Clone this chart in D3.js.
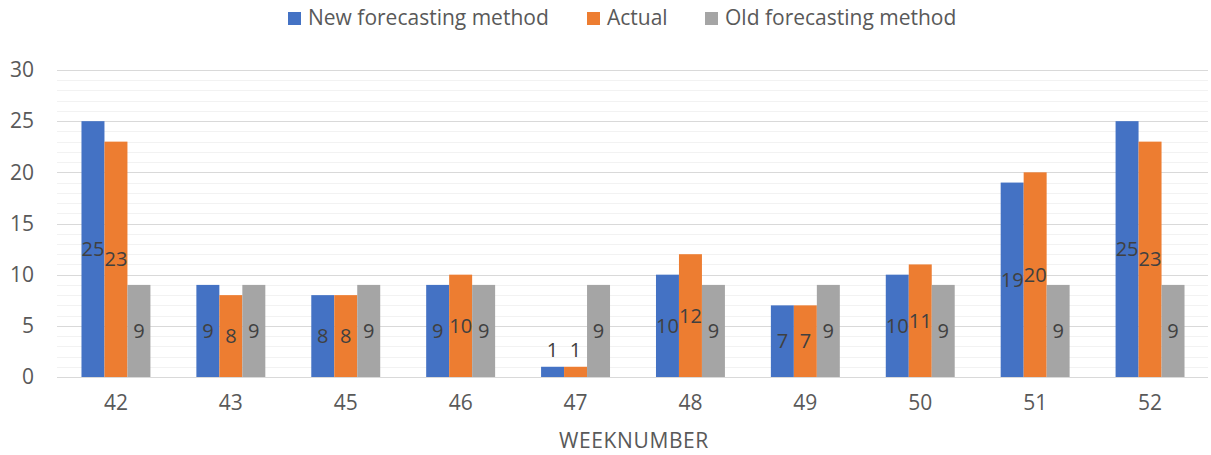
<!DOCTYPE html>
<html><head><meta charset="utf-8">
<script src="https://cdn.jsdelivr.net/npm/d3@7"></script>
<style>body{margin:0;background:#fff}svg{display:block}</style>
</head><body>
<svg id="c" width="1211" height="455"></svg>
<script>
const categories = ["42","43","45","46","47","48","49","50","51","52"];
const seriesNames = ["New forecasting method","Actual","Old forecasting method"];
const newMethod = [25,9,8,9,1,10,7,10,19,25];
const actual = [23,8,8,10,1,12,7,11,20,23];
const oldMethod = [9,9,9,9,9,9,9,9,9,9];
const yTicks = [0,5,10,15,20,25,30];
const colors = ["#4472C4","#ED7D31","#A5A5A5"];
const series = [newMethod, actual, oldMethod];

(function(){
const svg = d3.select("#c");
const font = "'Open Sans', sans-serif";
const pLeft = 58.5, pRight = 1207.5, pTop = 70, pBottom = 377;
const x = d3.scaleBand().domain(categories).range([pLeft, pRight]).paddingInner(0.4).paddingOuter(0.2);
const xs = d3.scaleBand().domain(seriesNames).range([0, x.bandwidth()]);
const y = d3.scaleLinear().domain([0,30]).range([pBottom, pTop]);

svg.append("g").selectAll("line").data(d3.range(0,31).filter(v=>v%5!==0)).join("line")
  .attr("x1",57).attr("x2",1208).attr("y1",d=>Math.round(y(d))+0.5).attr("y2",d=>Math.round(y(d))+0.5)
  .attr("stroke","#f2f2f2").attr("stroke-width",1);
svg.append("g").selectAll("line").data(yTicks).join("line")
  .attr("x1",57).attr("x2",1208).attr("y1",d=>Math.round(y(d))+0.5).attr("y2",d=>Math.round(y(d))+0.5)
  .attr("stroke","#d9d9d9").attr("stroke-width",1);

const yAxis = d3.axisLeft(y).tickValues(yTicks).tickSize(0).tickPadding(0);
const ga = svg.append("g").attr("transform","translate(34,0)").call(yAxis);
ga.select(".domain").remove();
ga.selectAll("text").attr("font-family",font).attr("font-size",21).attr("fill","#595959");

const xAxis = d3.axisBottom(x).tickSize(0).tickPadding(0);
const gx = svg.append("g").attr("transform",`translate(0,${pBottom+18})`).call(xAxis);
gx.select(".domain").remove();
gx.selectAll("text").attr("font-family",font).attr("font-size",21).attr("fill","#595959");

series.forEach((vals,si)=>{
  svg.append("g").selectAll("rect").data(vals).join("rect")
    .attr("x",(d,i)=>x(categories[i])+xs(seriesNames[si]))
    .attr("width",xs.bandwidth())
    .attr("y",d=>y(d)).attr("height",d=>y(0)-y(d))
    .attr("fill",colors[si]);
});
series.forEach((vals,si)=>{
  svg.append("g").selectAll("text").data(vals).join("text")
    .attr("x",(d,i)=>x(categories[i])+xs(seriesNames[si])+xs.bandwidth()/2)
    .attr("y",d=>Math.min((y(d)+y(0))/2, y(0)-27))
    .attr("dy","0.35em")
    .attr("text-anchor","middle")
    .attr("font-family",font).attr("font-size",20).attr("fill","#404040")
    .text(d=>d);
});

svg.append("text").attr("x",634).attr("y",441).attr("dy","0.35em").attr("text-anchor","middle")
  .attr("font-family",font).attr("font-size",21).attr("letter-spacing",0.6).attr("fill","#595959").text("WEEKNUMBER");

const legX = [288, 587, 705];
const lg = svg.append("g");
seriesNames.forEach((n,i)=>{
  lg.append("rect").attr("x",legX[i]).attr("y",12).attr("width",13).attr("height",13).attr("fill",colors[i]);
  lg.append("text").attr("x",legX[i]+20).attr("y",18).attr("dy","0.35em")
    .attr("font-family",font).attr("font-size",21).attr("fill","#595959").text(n);
});
})();
</script>
</body></html>
